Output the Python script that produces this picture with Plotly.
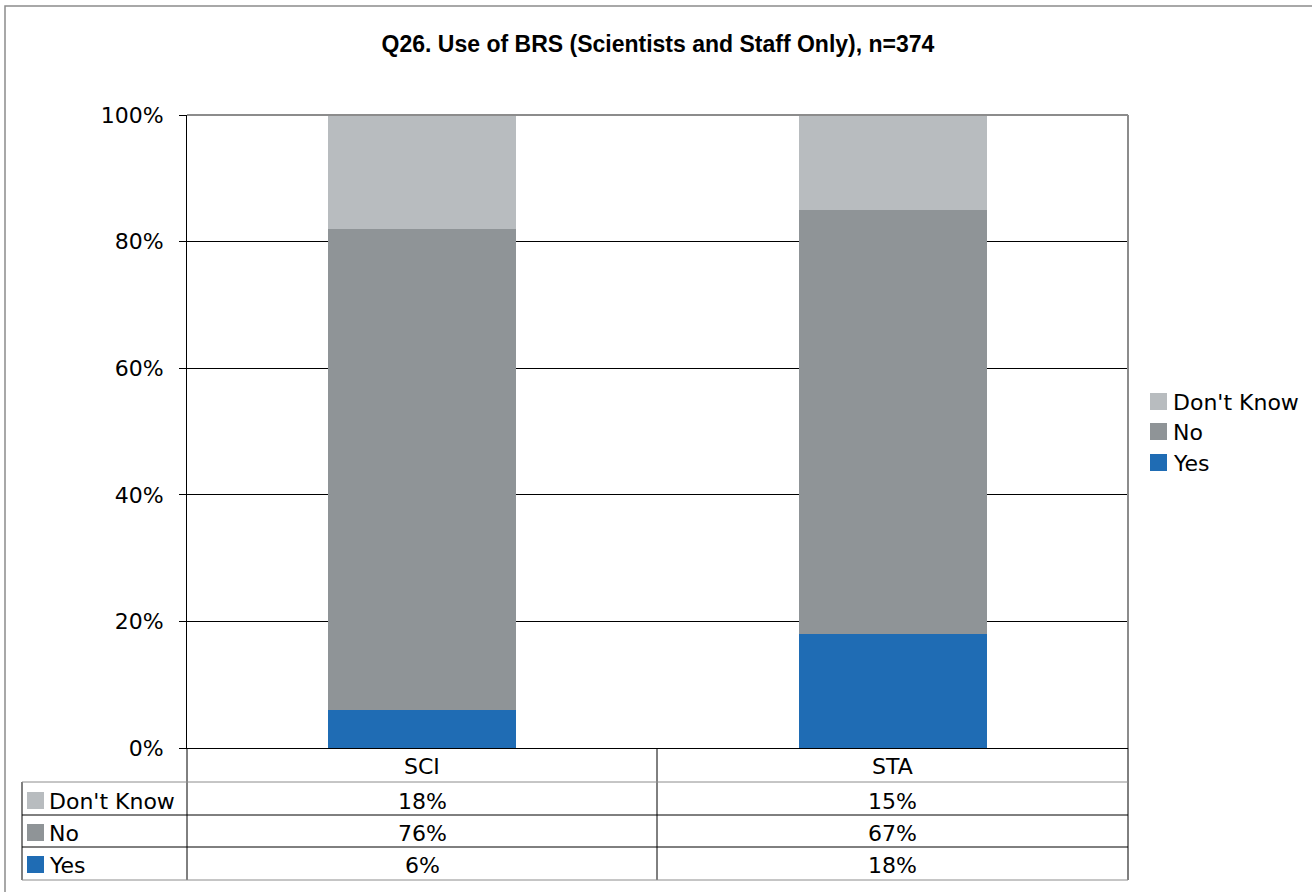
import plotly.graph_objects as go

# Survey results, percent of respondents
categories = ["SCI", "STA"]
series_names = ["Yes", "No", "Don't Know"]
yes_vals = [6, 18]
no_vals = [76, 67]
dk_vals = [18, 15]
tick_vals = [0, 20, 40, 60, 80, 100]
tick_text = ["0%", "20%", "40%", "60%", "80%", "100%"]

colors = {"Yes": "#1f6cb4", "No": "#8f9497", "Don't Know": "#b8bcbf"}
values = {"Yes": yes_vals, "No": no_vals, "Don't Know": dk_vals}

W, H = 1312, 892
PL, PR, PT, PB = 187, 1128, 115, 748
FONT = "DejaVu Sans"
FS = 22


def px(x):
    return (x - PL) / (PR - PL)


def py(y):
    return (PB - y) / (PB - PT)


fig = go.Figure()
for name in series_names:
    fig.add_trace(go.Bar(
        x=categories, y=values[name], name=name,
        marker=dict(color=colors[name], line=dict(width=0)),
        width=0.4, showlegend=False, hoverinfo="skip",
    ))

shapes = []


def line(x0, y0, x1, y1, color="black", width=1):
    shapes.append(dict(type="line", xref="paper", yref="paper",
                       x0=px(x0), y0=py(y0), x1=px(x1), y1=py(y1),
                       line=dict(color=color, width=width), layer="above"))


# outer chart frame
shapes.append(dict(type="rect", xref="paper", yref="paper",
                   x0=px(5), y0=py(6), x1=px(1330), y1=py(910),
                   line=dict(color="#8c8c8c", width=1.5), layer="below"))
# plot frame top / right
line(PL, PT, PR, PT, "#8c8c8c", 2)
line(PR, PT, PR, PB, "#8c8c8c", 2)

# data table grid
line(PL, PB, PL, 880)
line(657, PB, 657, 880)
line(PR, PB, PR, 880)
line(22, 782, 22, 880)
line(22, 782, PR, 782, "#8c8c8c")
line(22, 815, PR, 815)
line(22, 847, PR, 847)
line(22, 880, PR, 880, "#8c8c8c")

annotations = []
# column headers
for c in categories:
    annotations.append(dict(x=c, xref="x", y=py(767), yref="paper", text=c,
                            showarrow=False, font=dict(family=FONT, size=FS, color="black"),
                            yanchor="middle"))

# table rows, top to bottom
table_rows = ["Don't Know", "No", "Yes"]
row_centers = [801, 833, 865]
for name, yc in zip(table_rows, row_centers):
    shapes.append(dict(type="rect", xref="paper", yref="paper",
                       x0=px(27), x1=px(44), y0=py(yc - 9), y1=py(yc + 8),
                       fillcolor=colors[name], line=dict(width=0)))
    annotations.append(dict(x=px(47), xref="paper", y=py(yc), yref="paper", text=name,
                            showarrow=False, xanchor="left", yanchor="middle",
                            font=dict(family=FONT, size=FS, color="black")))
    for c, v in zip(categories, values[name]):
        annotations.append(dict(x=c, xref="x", y=py(yc), yref="paper", text=f"{v}%",
                                showarrow=False, yanchor="middle",
                                font=dict(family=FONT, size=FS, color="black")))

# legend, drawn top to bottom
legend_centers = [402, 432, 463]
for name, yc in zip(table_rows, legend_centers):
    shapes.append(dict(type="rect", xref="paper", yref="paper",
                       x0=px(1150), x1=px(1167), y0=py(yc - 9), y1=py(yc + 8),
                       fillcolor=colors[name], line=dict(width=0)))
    annotations.append(dict(x=px(1171), xref="paper", y=py(yc), yref="paper", text=name,
                            showarrow=False, xanchor="left", yanchor="middle",
                            font=dict(family=FONT, size=FS, color="black")))

fig.update_layout(
    width=W, height=H,
    margin=dict(l=PL, r=W - PR, t=PT, b=H - PB, pad=0),
    paper_bgcolor="white", plot_bgcolor="white",
    barmode="stack", bargap=0.6,
    title=dict(text="<b>Q26. Use of BRS (Scientists and Staff Only), n=374</b>",
               x=658 / W, xanchor="center", y=1 - 44 / H, yanchor="middle",
               font=dict(family="Liberation Sans", size=23, color="black")),
    xaxis=dict(showticklabels=False, showline=True, linecolor="black", linewidth=1,
               ticks="", showgrid=False, zeroline=False, fixedrange=True),
    yaxis=dict(range=[0, 100], tickvals=tick_vals, ticktext=tick_text,
               showline=True, linecolor="black", linewidth=1,
               ticks="outside", ticklen=7, tickcolor="black",
               showgrid=True, gridcolor="black", gridwidth=1, zeroline=False,
               ticklabelstandoff=11,
               tickfont=dict(family=FONT, size=FS, color="black")),
    shapes=shapes, annotations=annotations,
)

fig.write_html("out.html")
